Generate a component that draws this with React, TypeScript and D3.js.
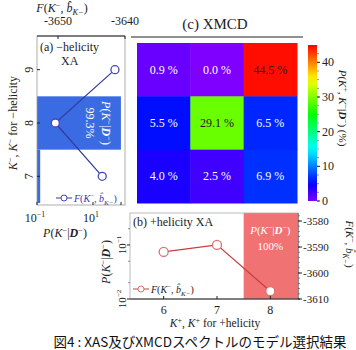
import React from "react";
import * as d3 from "d3";

// K- models (rows, top to bottom) and K+ models (columns)
const kMinus = [9, 8, 7];
const kPlus = [6, 7, 8];

// (c) XMCD joint probability, % — rows follow kMinus, columns follow kPlus
const xmcdPct = [
    [0.9, 0.0, 44.5],
    [5.5, 29.1, 6.5],
    [4.0, 2.5, 6.9],
];

// (a) -helicity XA: free energy and posterior (%) per K-
const fMinus = [-3641.5, -3650.4, -3643.4];
const pMinusPct = [0.1, 99.3, 0.13];

// (b) +helicity XA: free energy and posterior per K+
const fPlus = [-3591.9, -3589.2, -3607.0];
const pPlusFrac = [0, 0, 1.0];

const fTopTicks = [-3650, -3640];
const fRightTicks = [-3580, -3590, -3600, -3610];
const cbarTicks = [0, 10, 20, 30, 40];

const serif = "'Liberation Serif', 'DejaVu Serif', serif";

const cellColor = (v: number) => d3.hsl(270 * (1 - v / 45), 1, 0.5).toString();

// F(K-, b_K-) label with sup/sub
const FLabel: React.FC<any> = ({ sign = "−" }) => (
    <>
        <tspan fontStyle="italic">F</tspan>
        <tspan>(</tspan>
        <tspan fontStyle="italic">K</tspan>
        <tspan dy={-4} fontSize="0.7em">{sign}</tspan>
        <tspan dy={4}>, </tspan>
        <tspan fontStyle="italic">b̂</tspan>
        <tspan dy={3} fontSize="0.7em" fontStyle="italic">K−</tspan>
        <tspan dy={-3}>)</tspan>
    </>
);

const PLabel: React.FC<any> = () => (
    <>
        <tspan fontStyle="italic">P</tspan>
        <tspan>(</tspan>
        <tspan fontStyle="italic">K</tspan>
        <tspan dy={-4} fontSize="0.7em">−</tspan>
        <tspan dy={4}>|</tspan>
        <tspan fontWeight="bold" fontStyle="italic">D</tspan>
        <tspan dy={-4} fontSize="0.7em">−</tspan>
        <tspan dy={4}>)</tspan>
    </>
);

const Pow: React.FC<any> = ({ e }) => (
    <>
        <tspan>10</tspan>
        <tspan dy={-5} fontSize="0.65em">{e}</tspan>
    </>
);

export default function App() {
    // shared model scales
    const yK = d3.scaleLinear().domain([9.5, 6.5]).range([43, 203]);
    const xK = d3.scaleLinear().domain([5.5, 8.5]).range([137, 297]);
    const cell = yK(8) - yK(9);

    // panel (a)
    const aBox = { x0: 37, x1: 125, y0: 36, y1: 205 };
    const xF = d3.scaleLinear().domain([-3650, -3640]).range([58, 125]);
    const xP = d3.scaleLog().domain([0.1, 100]).range([37, 121]).clamp(true);

    // panel (b)
    const bBox = { x0: 130, x1: 298, y0: 213, y1: 299 };
    const yF = d3.scaleLinear().domain([-3610, -3580]).range([299, 221]);
    const yP = d3.scaleLog().domain([0.01, 0.39]).range([299, 213]).clamp(true);

    // colorbar
    const yC = d3.scaleLinear().domain([0, 45]).range([201, 45]);

    const lineA = d3
        .line<number>()
        .x((_, i) => xF(fMinus[i]))
        .y((_, i) => yK(kMinus[i]));
    const lineB = d3
        .line<number>()
        .x((_, i) => xK(kPlus[i]))
        .y((_, i) => yF(fPlus[i]));

    const stops = d3.range(0, 1.0001, 0.05);

    return (
        <svg width={356} height={350} style={{ position: "absolute", left: 0, top: 0 }} fontFamily={serif}>
            <defs>
                <linearGradient id="cbar" x1="0" y1="1" x2="0" y2="0">
                    {stops.map((s, i) => (
                        <stop key={i} offset={s} stopColor={cellColor(s * 45)} />
                    ))}
                </linearGradient>
                <clipPath id="clipA">
                    <rect x={aBox.x0} y={aBox.y0} width={aBox.x1 - aBox.x0} height={aBox.y1 - aBox.y0} />
                </clipPath>
            </defs>

            {/* ---------- panel (a) ---------- */}
            <g clipPath="url(#clipA)">
                {kMinus.map((k, i) => {
                    const w = xP(pMinusPct[i]) - aBox.x0;
                    return w > 0 ? (
                        <rect
                            key={k}
                            x={aBox.x0}
                            y={yK(k + 0.5)}
                            width={w}
                            height={cell}
                            fill="#3b6be3"
                        />
                    ) : null;
                })}
            </g>
            <g transform={`translate(${aBox.x0 + 50},${yK(8)}) rotate(90)`} fill="#fff" fontSize={12} textAnchor="middle">
                <text y={-15}>
                    <PLabel />
                </text>
                <text y={1}>{pMinusPct[1]}%</text>
            </g>
            <path d={lineA(fMinus) || ""} fill="none" stroke="#2f3a9e" strokeWidth={1.2} />
            {fMinus.map((f, i) => (
                <circle key={i} cx={xF(f)} cy={yK(kMinus[i])} r={4} fill="#fff" stroke="#4646c0" strokeWidth={1.3} />
            ))}
            <rect x={aBox.x0} y={aBox.y0} width={aBox.x1 - aBox.x0} height={aBox.y1 - aBox.y0} fill="none" stroke="#999" strokeWidth={0.8} />
            <line x1={aBox.x0} x2={aBox.x1} y1={aBox.y0} y2={aBox.y0} stroke="#222" strokeWidth={1} />
            {/* top axis F */}
            {fTopTicks.map((t) => (
                <g key={t}>
                    <line x1={xF(t)} x2={xF(t)} y1={aBox.y0} y2={aBox.y0 + 3} stroke="#222" />
                    <text x={xF(t)} y={25} fontSize={12} textAnchor="middle" fill="#222">
                        {t}
                    </text>
                </g>
            ))}
            <text x={62} y={12} fontSize={12} textAnchor="middle" fill="#222">
                <FLabel />
            </text>
            <text x={40} y={51} fontSize={12} fill="#222">
                (a) −helicity
            </text>
            <text x={61} y={65} fontSize={12} fill="#222">
                XA
            </text>
            {/* left axis K- */}
            {kMinus.map((k) => (
                <g key={k}>
                    <line x1={aBox.x0} x2={aBox.x0 + 3} y1={yK(k)} y2={yK(k)} stroke="#222" />
                    <text transform={`translate(33,${yK(k)}) rotate(-90)`} fontSize={12} textAnchor="middle" fill="#222">
                        {k}
                    </text>
                </g>
            ))}
            <text transform={`translate(17,${yK(8)}) rotate(-90)`} fontSize={12} textAnchor="middle" fill="#222">
                <tspan fontStyle="italic">K</tspan>
                <tspan dy={-4} fontSize="0.7em">−</tspan>
                <tspan dy={4}>, </tspan>
                <tspan fontStyle="italic">K</tspan>
                <tspan dy={-4} fontSize="0.7em">−</tspan>
                <tspan dy={4}> for −helicity</tspan>
            </text>
            {/* bottom axis P */}
            {[0.1, 10].map((t, i) => (
                <g key={t}>
                    <line x1={xP(t)} x2={xP(t)} y1={aBox.y1} y2={aBox.y1 - 3} stroke="#222" />
                    <text x={xP(t) - 2} y={222} fontSize={12} textAnchor="middle" fill="#222">
                        <Pow e={i === 0 ? "−1" : "1"} />
                    </text>
                </g>
            ))}
            <line x1={xP(100)} x2={xP(100)} y1={aBox.y1} y2={aBox.y1 - 3} stroke="#222" />
            <text x={65} y={237} fontSize={12} textAnchor="middle" fill="#222">
                <PLabel />
            </text>
            {/* legend (a) */}
            <line x1={56} x2={72} y1={198} y2={198} stroke="#2f3a9e" />
            <circle cx={64} cy={198} r={3} fill="#fff" stroke="#4646c0" />
            <text x={74} y={202} fontSize={10} fill="#2f3a9e">
                <FLabel />
            </text>

            {/* ---------- panel (c) ---------- */}
            <line x1={131} x2={303} y1={37} y2={37} stroke="#222" strokeWidth={1} />
            <text x={215} y={29} fontSize={15} textAnchor="middle" fill="#222">
                (c) XMCD
            </text>
            {xmcdPct.map((row, i) =>
                row.map((v, j) => (
                    <g key={`${i}-${j}`}>
                        <rect
                            x={xK(kPlus[j] - 0.5)}
                            y={yK(kMinus[i] + 0.5)}
                            width={cell + 0.5}
                            height={cell + 0.5}
                            fill={cellColor(v)}
                        />
                        <text
                            x={xK(kPlus[j])}
                            y={yK(kMinus[i]) + 4}
                            fontSize={12}
                            textAnchor="middle"
                            fill={v > 20 ? "#222" : "#fff"}
                        >
                            {v.toFixed(1)} %
                        </text>
                    </g>
                ))
            )}
            {/* colorbar */}
            <rect x={308} y={yC(45)} width={9} height={yC(0) - yC(45)} fill="url(#cbar)" />
            {d3.range(0, 45, 2.5).map((t) => (
                <line key={t} x1={317} x2={319} y1={yC(t)} y2={yC(t)} stroke="#444" strokeWidth={0.6} />
            ))}
            {cbarTicks.map((t) => (
                <g key={t}>
                    <line x1={317} x2={320} y1={yC(t)} y2={yC(t)} stroke="#222" />
                    <text x={322} y={yC(t) + 4} fontSize={12} fill="#222">
                        {t}
                    </text>
                </g>
            ))}
            <text transform={`translate(339,${108}) rotate(90)`} fontSize={11} textAnchor="middle" fill="#222">
                <tspan fontStyle="italic">P</tspan>
                <tspan>(</tspan>
                <tspan fontStyle="italic">K</tspan>
                <tspan dy={-4} fontSize="0.7em">+</tspan>
                <tspan dy={4}>, </tspan>
                <tspan fontStyle="italic">K</tspan>
                <tspan dy={-4} fontSize="0.7em">−</tspan>
                <tspan dy={4}>|</tspan>
                <tspan fontWeight="bold" fontStyle="italic">D</tspan>
                <tspan dy={-4} fontSize="0.7em">−</tspan>
                <tspan dy={4}>) (%)</tspan>
            </text>

            {/* ---------- panel (b) ---------- */}
            {kPlus.map((k, i) => {
                if (pPlusFrac[i] <= 0) return null;
                const yTop = yP(pPlusFrac[i]);
                return (
                    <rect
                        key={k}
                        x={xK(k - 0.5)}
                        y={yTop}
                        width={cell}
                        height={bBox.y1 - yTop}
                        fill="#f07272"
                    />
                );
            })}
            <g fill="#fff" fontSize={11} textAnchor="middle">
                <text x={xK(8)} y={234}>
                    <PLabel />
                </text>
                <text x={xK(8)} y={250}>
                    {pPlusFrac[2] * 100}%
                </text>
            </g>
            <path d={lineB(fPlus) || ""} fill="none" stroke="#cc3b3b" strokeWidth={1.2} />
            {fPlus.map((f, i) => (
                <circle key={i} cx={xK(kPlus[i])} cy={yF(f)} r={4.5} fill="#fff" stroke="#e07070" strokeWidth={1.3} />
            ))}
            <rect x={bBox.x0} y={bBox.y0} width={bBox.x1 - bBox.x0} height={bBox.y1 - bBox.y0} fill="none" stroke="#aaa" strokeWidth={0.8} />
            <line x1={bBox.x0} x2={bBox.x1 + 2} y1={bBox.y1} y2={bBox.y1} stroke="#222" />
            <line x1={bBox.x1} x2={bBox.x1} y1={bBox.y0} y2={bBox.y1} stroke="#222" strokeWidth={0.8} />
            <text x={133} y={226} fontSize={12} fill="#222">
                (b) +helicity XA
            </text>
            {/* right axis F */}
            {d3.range(-3610, -3577, 2).map((t) => (
                <line key={t} x1={bBox.x1} x2={bBox.x1 + 2} y1={yF(t)} y2={yF(t)} stroke="#444" strokeWidth={0.6} />
            ))}
            {fRightTicks.map((t) => (
                <g key={t}>
                    <line x1={bBox.x1} x2={bBox.x1 + 4} y1={yF(t)} y2={yF(t)} stroke="#222" />
                    <text x={303} y={yF(t) + 4} fontSize={11} fill="#222">
                        {t}
                    </text>
                </g>
            ))}
            <text transform={`translate(346,${244}) rotate(90)`} fontSize={11} textAnchor="middle" fill="#222">
                <FLabel />
            </text>
            {/* left axis P (log) */}
            {[0.01, 0.1].map((t, i) => (
                <g key={t}>
                    <line x1={bBox.x0} x2={bBox.x0 - 3} y1={yP(t)} y2={yP(t)} stroke="#222" />
                    <text transform={`translate(126,${yP(t)}) rotate(-90)`} fontSize={11} textAnchor="middle" fill="#222">
                        <Pow e={i === 0 ? "−2" : "−1"} />
                    </text>
                </g>
            ))}
            {[0.02, 0.05, 0.2].map((t) => (
                <line key={t} x1={bBox.x0} x2={bBox.x0 - 2} y1={yP(t)} y2={yP(t)} stroke="#444" strokeWidth={0.6} />
            ))}
            <text transform={`translate(110,${262}) rotate(-90)`} fontSize={12} textAnchor="middle" fill="#222">
                <PLabel />
            </text>
            {/* bottom axis K+ */}
            {kPlus.map((k) => (
                <g key={k}>
                    <line x1={xK(k)} x2={xK(k)} y1={bBox.y1} y2={bBox.y1 - 3} stroke="#222" />
                    <text x={xK(k)} y={314} fontSize={12} textAnchor="middle" fill="#222">
                        {k}
                    </text>
                </g>
            ))}
            <text x={215} y={327} fontSize={11.5} textAnchor="middle" fill="#222">
                <tspan fontStyle="italic">K</tspan>
                <tspan dy={-4} fontSize="0.7em">+</tspan>
                <tspan dy={4}>, </tspan>
                <tspan fontStyle="italic">K</tspan>
                <tspan dy={-4} fontSize="0.7em">+</tspan>
                <tspan dy={4}> for +helicity</tspan>
            </text>
            {/* legend (b) */}
            <line x1={133} x2={149} y1={289} y2={289} stroke="#cc3b3b" />
            <circle cx={141} cy={289} r={3} fill="#fff" stroke="#e07070" />
            <text x={151} y={293} fontSize={10} fill="#222">
                <FLabel />
            </text>

            {/* caption */}
            <text x={200} y={347} fontSize={13.5} textAnchor="middle" fill="#111" fontFamily="'Noto Sans CJK JP', sans-serif">
                図4 : XAS及びXMCDスペクトルのモデル選択結果
            </text>
        </svg>
    );
}
